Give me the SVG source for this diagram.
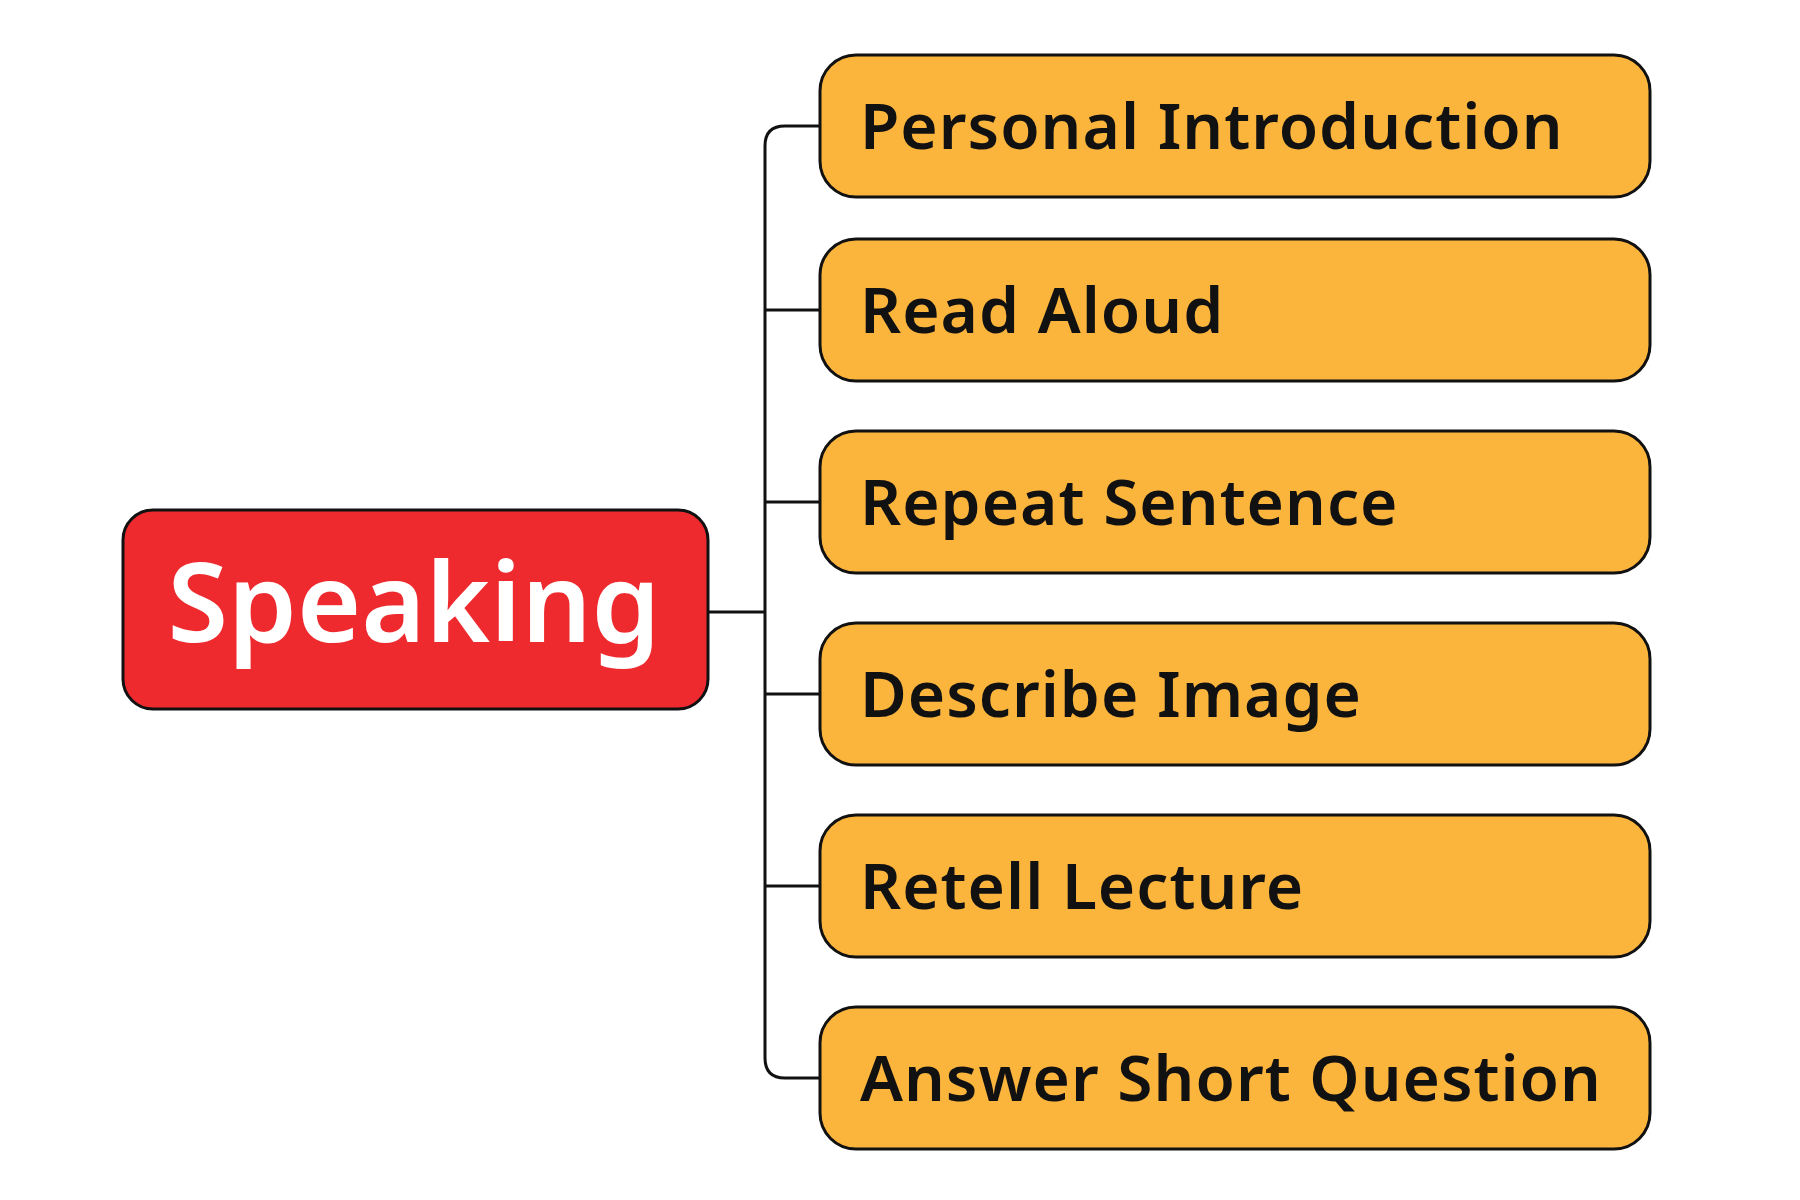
<svg xmlns="http://www.w3.org/2000/svg" width="1800" height="1200" viewBox="0 0 1800 1200">
<style>
.leaf rect{fill:#FBB53D;stroke:#111;stroke-width:3}
.leaf text{font-family:"Noto Sans",sans-serif;font-weight:600;font-size:64px;letter-spacing:1px;fill:#111}
.conn path{fill:none;stroke:#111;stroke-width:3}
</style>
<rect width="1800" height="1200" fill="#fff"/>
<g class="conn">
<path d="M708 612H765"/>
<path d="M820 126H785Q765 126 765 146V1058Q765 1078 785 1078H820"/>
<path d="M765 310H820M765 502H820M765 694H820M765 886H820"/>
</g>
<g id="speaking"><rect x="123" y="510" width="585" height="199" rx="30" fill="#EE2A2E" stroke="#111" stroke-width="3"/>
<text x="414" y="642" text-anchor="middle" font-family="Noto Sans,sans-serif" font-weight="600" font-size="110" fill="#fff">Speaking</text></g>
<g id="n1" class="leaf"><rect x="820" y="55" width="830" height="142" rx="36"/><text x="860" y="149">Personal Introduction</text></g>
<g id="n2" class="leaf"><rect x="820" y="239" width="830" height="142" rx="36"/><text x="860" y="333">Read Aloud</text></g>
<g id="n3" class="leaf"><rect x="820" y="431" width="830" height="142" rx="36"/><text x="860" y="525">Repeat Sentence</text></g>
<g id="n4" class="leaf"><rect x="820" y="623" width="830" height="142" rx="36"/><text x="860" y="717">Describe Image</text></g>
<g id="n5" class="leaf"><rect x="820" y="815" width="830" height="142" rx="36"/><text x="860" y="909">Retell Lecture</text></g>
<g id="n6" class="leaf"><rect x="820" y="1007" width="830" height="142" rx="36"/><text x="860" y="1101">Answer Short Question</text></g>
</svg>
